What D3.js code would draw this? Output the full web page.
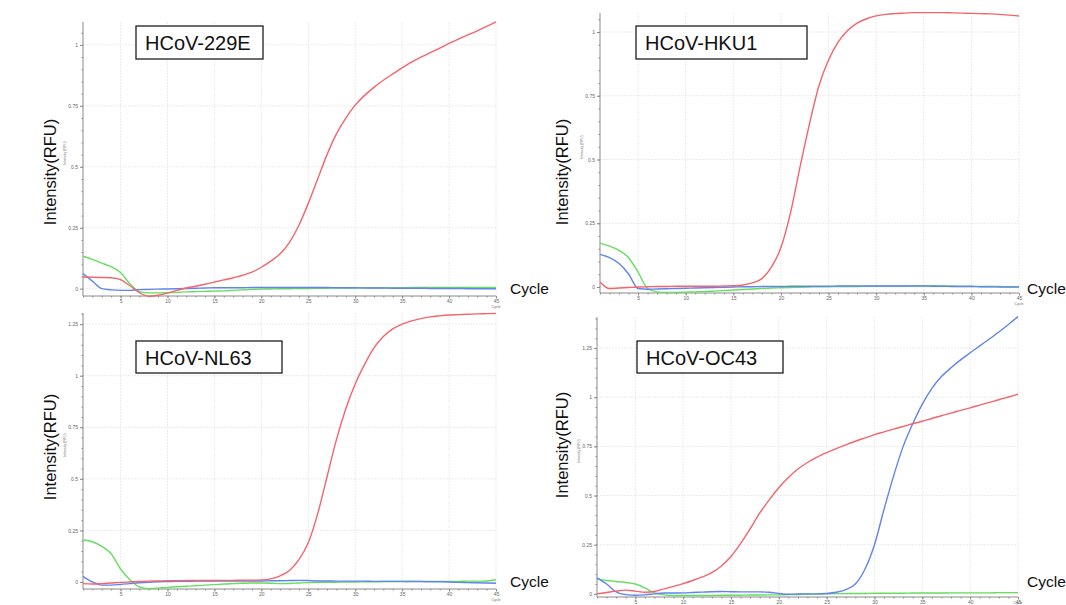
<!DOCTYPE html>
<html>
<head>
<meta charset="utf-8">
<script src="https://cdnjs.cloudflare.com/ajax/libs/d3/7.8.5/d3.min.js"></script>
<style>
  body { margin: 0; background: #fff; }
  svg { display: block; font-family: "Liberation Sans", Arial, sans-serif; }
  .grid line { stroke: #e6e6e6; stroke-width: 0.8; stroke-dasharray: 2 1; }
  .axis path, .axis line { stroke: #8a8a8a; }
  .axis text { fill: #666; font-size: 5px; }
  .curve { fill: none; stroke-width: 1.4; stroke-linejoin: round; }
</style>
</head>
<body>
<svg id="chart" width="1066" height="605"></svg>
<script>
// cycle numbers on the x axis
var cycles = d3.range(1, 46);
var xTicks = [5, 10, 15, 20, 25, 30, 35, 40, 45];

// HCoV-229E
var red229E = [0.048, 0.047, 0.046, 0.045, 0.037, 0.012, -0.016, -0.031, -0.027, -0.018,
    -0.007, 0.003, 0.010, 0.018, 0.027, 0.036, 0.045, 0.055, 0.068, 0.088,
    0.113, 0.143, 0.190, 0.260, 0.350, 0.450, 0.550, 0.635, 0.700, 0.753,
    0.793, 0.826, 0.855, 0.881, 0.906, 0.929, 0.950, 0.968, 0.987, 1.006,
    1.024, 1.041, 1.058, 1.076, 1.095];
var green229E = [0.133, 0.120, 0.105, 0.090, 0.066, 0.020, -0.012, -0.017, -0.017, -0.016,
    -0.015, -0.013, -0.012, -0.011, -0.010, -0.009, -0.007, -0.005, -0.003, -0.002,
    -0.001, 0.000, 0.000, 0.001, 0.001, 0.002, 0.002, 0.003, 0.003, 0.003,
    0.004, 0.004, 0.004, 0.004, 0.004, 0.005, 0.005, 0.005, 0.005, 0.005,
    0.005, 0.005, 0.005, 0.005, 0.005];
var blue229E = [0.062, 0.031, 0.000, -0.005, -0.007, -0.007, -0.004, -0.003, -0.002, -0.001,
    0.000, 0.001, 0.002, 0.003, 0.004, 0.004, 0.004, 0.004, 0.005, 0.005,
    0.005, 0.005, 0.005, 0.005, 0.005, 0.005, 0.005, 0.004, 0.004, 0.004,
    0.003, 0.003, 0.003, 0.002, 0.002, 0.002, 0.002, 0.001, 0.001, 0.001,
    0.001, 0.000, 0.000, 0.000, 0.000];

// HCoV-HKU1
var redHKU1 = [0.020, -0.006, -0.004, -0.002, 0.000, 0.001, 0.002, 0.002, 0.003, 0.003,
    0.003, 0.003, 0.003, 0.004, 0.005, 0.008, 0.016, 0.033, 0.078, 0.155,
    0.290, 0.470, 0.640, 0.790, 0.890, 0.960, 1.006, 1.035, 1.052, 1.063,
    1.069, 1.072, 1.074, 1.076, 1.076, 1.076, 1.076, 1.075, 1.074, 1.073,
    1.072, 1.071, 1.069, 1.066, 1.063];
var greenHKU1 = [0.172, 0.160, 0.144, 0.115, 0.058, -0.006, -0.019, -0.021, -0.021, -0.020,
    -0.019, -0.018, -0.016, -0.014, -0.012, -0.010, -0.008, -0.006, -0.004, -0.003,
    -0.002, -0.001, 0.000, 0.001, 0.001, 0.002, 0.002, 0.002, 0.003, 0.003,
    0.004, 0.004, 0.004, 0.005, 0.005, 0.005, 0.004, 0.004, 0.003, 0.003,
    0.002, 0.002, 0.002, 0.001, 0.001];
var blueHKU1 = [0.128, 0.115, 0.092, 0.051, -0.006, -0.009, -0.008, -0.007, -0.006, -0.005,
    -0.004, -0.003, -0.002, -0.001, 0.000, 0.001, 0.001, 0.002, 0.002, 0.002,
    0.003, 0.003, 0.003, 0.003, 0.003, 0.004, 0.004, 0.004, 0.004, 0.004,
    0.004, 0.004, 0.004, 0.004, 0.004, 0.003, 0.003, 0.002, 0.002, 0.002,
    0.001, 0.001, 0.000, 0.000, 0.000];

// HCoV-NL63
var redNL63 = [-0.008, -0.010, -0.008, -0.005, -0.002, 0.000, 0.002, 0.004, 0.005, 0.006,
    0.006, 0.007, 0.007, 0.007, 0.008, 0.008, 0.008, 0.009, 0.009, 0.010,
    0.015, 0.030, 0.056, 0.108, 0.190, 0.330, 0.510, 0.690, 0.840, 0.960,
    1.055, 1.135, 1.190, 1.227, 1.250, 1.266, 1.277, 1.285, 1.290, 1.294,
    1.296, 1.298, 1.300, 1.301, 1.302];
var greenNL63 = [0.205, 0.195, 0.173, 0.137, 0.063, 0.011, -0.024, -0.032, -0.030, -0.026,
    -0.023, -0.021, -0.018, -0.015, -0.013, -0.010, -0.008, -0.006, -0.005, -0.005,
    -0.006, -0.008, -0.007, -0.005, -0.003, -0.002, -0.001, -0.001, 0.000, 0.000,
    0.001, 0.001, 0.002, 0.002, 0.002, 0.003, 0.003, 0.003, 0.003, 0.003,
    0.003, 0.004, 0.004, 0.005, 0.011];
var blueNL63 = [0.027, 0.000, -0.015, -0.015, -0.012, -0.008, -0.004, -0.001, 0.001, 0.002,
    0.003, 0.003, 0.004, 0.004, 0.004, 0.005, 0.005, 0.005, 0.005, 0.005,
    0.006, 0.006, 0.007, 0.008, 0.007, 0.005, 0.005, 0.004, 0.004, 0.004,
    0.004, 0.003, 0.003, 0.003, 0.003, 0.002, 0.002, 0.001, 0.001, 0.000,
    -0.002, -0.003, -0.004, -0.005, -0.006];

// HCoV-OC43
var redOC43 = [0.000, 0.007, 0.014, 0.019, 0.014, 0.008, 0.012, 0.025, 0.038, 0.052,
    0.068, 0.086, 0.108, 0.142, 0.190, 0.255, 0.330, 0.410, 0.478, 0.540,
    0.592, 0.635, 0.668, 0.695, 0.718, 0.739, 0.758, 0.776, 0.793, 0.810,
    0.824, 0.838, 0.851, 0.865, 0.878, 0.892, 0.906, 0.919, 0.933, 0.946,
    0.960, 0.974, 0.987, 1.001, 1.015];
var greenOC43 = [0.075, 0.068, 0.063, 0.058, 0.050, 0.030, 0.005, -0.005, -0.008, -0.008,
    -0.008, -0.008, -0.008, -0.007, -0.007, -0.007, -0.006, -0.006, -0.005, -0.005,
    -0.004, -0.003, -0.002, -0.001, 0.000, 0.001, 0.001, 0.002, 0.002, 0.003,
    0.003, 0.003, 0.003, 0.004, 0.004, 0.004, 0.004, 0.005, 0.005, 0.005,
    0.005, 0.005, 0.006, 0.006, 0.006];
var blueOC43 = [0.081, 0.050, 0.010, -0.004, -0.007, -0.005, 0.000, 0.004, 0.004, 0.005,
    0.007, 0.009, 0.011, 0.012, 0.011, 0.010, 0.010, 0.010, 0.008, 0.002,
    -0.002, -0.001, 0.000, 0.000, 0.002, 0.008, 0.022, 0.050, 0.125, 0.250,
    0.430, 0.600, 0.750, 0.865, 0.965, 1.045, 1.105, 1.150, 1.190, 1.226,
    1.261, 1.296, 1.332, 1.370, 1.410];

var colors = { red: "#f4646a", green: "#66dd5e", blue: "#6184ee" };

// panel layout (pixels)
var panels = [
    { name: "HCoV-229E", red: red229E, green: green229E, blue: blue229E,
      left: 83, right: 496, top: 22, bottom: 296, yDomain: [-0.030, 1.094],
      yTicks: [0, 0.25, 0.5, 0.75, 1],
      box: [136, 26, 127, 33], bigLabel: [50, 172], cycle: [510, 294] },
    { name: "HCoV-HKU1", red: redHKU1, green: greenHKU1, blue: blueHKU1,
      left: 600, right: 1019, top: 13, bottom: 293, yDomain: [-0.0235, 1.0745],
      yTicks: [0, 0.25, 0.5, 0.75, 1],
      box: [636, 26, 171, 33], bigLabel: [562, 172], cycle: [1027, 294] },
    { name: "HCoV-NL63", red: redNL63, green: greenNL63, blue: blueNL63,
      left: 83, right: 496, top: 313, bottom: 589, yDomain: [-0.034, 1.304],
      yTicks: [0, 0.25, 0.5, 0.75, 1, 1.25],
      box: [136, 341, 146, 32], bigLabel: [50, 447], cycle: [510, 587] },
    { name: "HCoV-OC43", red: redOC43, green: greenOC43, blue: blueOC43,
      left: 597, right: 1018, top: 317, bottom: 597, yDomain: [-0.016, 1.408],
      yTicks: [0, 0.25, 0.5, 0.75, 1, 1.25],
      box: [637, 341, 146, 32], bigLabel: [562, 445], cycle: [1027, 587] }
];

function AmplificationPanel(svg, opt) {
    this.svg = svg;
    this.opt = opt;
    this.g = svg.append("g").attr("class", "panel");
    this.xScale = d3.scaleLinear().domain([1, 45]).range([opt.left, opt.right]);
    this.yScale = d3.scaleLinear().domain(opt.yDomain).range([opt.bottom, opt.top]);
    return this;
}

AmplificationPanel.prototype.draw = function() {
    var opt = this.opt;
    var xScale = this.xScale;
    var yScale = this.yScale;
    var g = this.g;

    // grid
    var grid = g.append("g").attr("class", "grid");
    grid.selectAll(".vx").data(xTicks).enter().append("line")
        .attr("x1", d => xScale(d)).attr("x2", d => xScale(d))
        .attr("y1", opt.top).attr("y2", opt.bottom);
    grid.selectAll(".hy").data(opt.yTicks).enter().append("line")
        .attr("x1", opt.left).attr("x2", opt.right)
        .attr("y1", d => yScale(d)).attr("y2", d => yScale(d));

    // minor ticks, then the labelled axes
    var minorY = d3.range(0, opt.yDomain[1], 0.05);
    g.append("g").attr("class", "axis")
        .attr("transform", "translate(" + [opt.left, 0] + ")")
        .call(d3.axisLeft(yScale).tickValues(minorY).tickSize(1.5).tickFormat(""))
        .select(".domain").remove();
    g.append("g").attr("class", "axis")
        .attr("transform", "translate(" + [0, opt.bottom] + ")")
        .call(d3.axisBottom(xScale).tickValues(cycles).tickSize(1.5).tickFormat(""))
        .select(".domain").remove();

    var yAxis = g.append("g").attr("class", "axis")
        .attr("transform", "translate(" + [opt.left, 0] + ")")
        .call(d3.axisLeft(yScale).tickValues(opt.yTicks).tickSize(3).tickPadding(2)
            .tickFormat(d => d));
    yAxis.select(".domain").attr("d", "M0," + opt.top + "V" + opt.bottom);

    var xAxis = g.append("g").attr("class", "axis")
        .attr("transform", "translate(" + [0, opt.bottom] + ")")
        .call(d3.axisBottom(xScale).tickValues(xTicks).tickSize(2.5).tickPadding(1));
    xAxis.select(".domain").attr("d", "M" + opt.left + ",0H" + opt.right);

    // tiny software axis titles
    g.append("text")
        .attr("transform", "translate(" + [opt.left - 17, (opt.top + opt.bottom) / 2 - 6] + ") rotate(-90)")
        .attr("text-anchor", "middle")
        .attr("font-size", 3.5).attr("fill", "#666")
        .text("Intensity (RFU)");
    g.append("text")
        .attr("x", opt.right).attr("y", Math.min(opt.bottom + 12, 604))
        .attr("text-anchor", "middle")
        .attr("font-size", 3.5).attr("fill", "#666")
        .text("Cycle");

    // curves
    var line = d3.line()
        .curve(d3.curveMonotoneX)
        .x((d, i) => xScale(cycles[i]))
        .y(d => yScale(d));
    ["green", "blue", "red"].forEach(key => {
        g.append("path")
            .attr("class", "curve")
            .attr("stroke", colors[key])
            .attr("d", line(opt[key]));
    });

    // target name box
    g.append("rect")
        .attr("x", opt.box[0]).attr("y", opt.box[1])
        .attr("width", opt.box[2]).attr("height", opt.box[3])
        .attr("fill", "#fff").attr("stroke", "#1e1e1e").attr("stroke-width", 1.3);
    g.append("text")
        .attr("x", opt.box[0] + 9).attr("y", opt.box[1] + 23.5)
        .attr("font-size", 20).attr("fill", "#111")
        .text(opt.name);

    // big overlaid axis labels
    g.append("text")
        .attr("transform", "translate(" + [opt.bigLabel[0] + 6, opt.bigLabel[1]] + ") rotate(-90)")
        .attr("text-anchor", "middle")
        .attr("font-size", 16.5).attr("fill", "#111")
        .text("Intensity(RFU)");
    g.append("text")
        .attr("x", opt.cycle[0]).attr("y", opt.cycle[1])
        .attr("font-size", 15.5).attr("fill", "#111")
        .text("Cycle");
}

var svg = d3.select("#chart");
svg.append("rect").attr("width", 1066).attr("height", 605).attr("fill", "#fff");
panels.forEach(p => new AmplificationPanel(svg, p).draw());
</script>
</body>
</html>
